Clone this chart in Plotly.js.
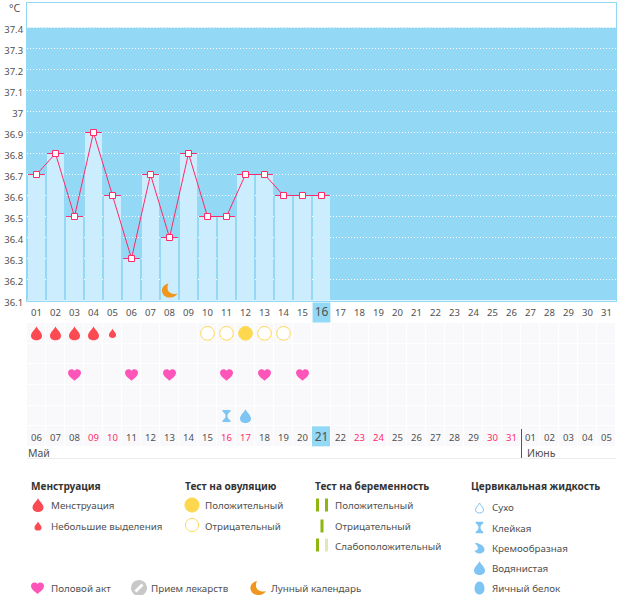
<!DOCTYPE html>
<html><head><meta charset="utf-8">
<script src="https://cdn.plot.ly/plotly-3.0.1.min.js"></script>
<style>html,body{margin:0;padding:0;background:#fff}#c{width:626px;height:595px}</style>
</head><body><div id="c"></div>
<script>
// ---- data ----
const days = [];
for (let d = 1; d <= 31; d++) days.push(d);
const cycleLabels = ['01','02','03','04','05','06','07','08','09','10','11','12','13','14','15','16','17','18','19','20','21','22','23','24','25','26','27','28','29','30','31'];
const dateLabels = ['06','07','08','09','10','11','12','13','14','15','16','17','18','19','20','21','22','23','24','25','26','27','28','29','30','31','01','02','03','04','05'];
const redCols = [4,5,11,12,18,19,25,26];
const tempDays = [1,2,3,4,5,6,7,8,9,10,11,12,13,14,15,16];
const temps = [36.7,36.8,36.5,36.9,36.6,36.3,36.7,36.4,36.8,36.5,36.5,36.7,36.7,36.6,36.6,36.6];
const yTicks = [36.1,36.2,36.3,36.4,36.5,36.6,36.7,36.8,36.9,37,37.1,37.2,37.3,37.4];
const yTickText = ['36.1','36.2','36.3','36.4','36.5','36.6','36.7','36.8','36.9','37','37.1','37.2','37.3','37.4'];
const todayCol = 16;
const moonDays = [8];
const periodDays = [1,2,3,4];
const spottingDays = [5];
const ovuPositive = [12];
const ovuNegative = [10,11,13,14];
const sexDays = [3,6,8,11,13,15];
const stickyDays = [11];
const wateryDays = [12];

// ---- styles ----
const BLUE='#93d8f5', BAR='#cbedfe', PINK='#ff2a68', CELL='#f9f9fb', TXT='#505050', RED='#fb4a52';
const YEL='#fdd84f', MOON='#f0961e', HEART='#fd56b8', CF='#7fc5f3', GRN='#8fb60f', PALE='#dfe8b8', GREY='#c8c8c8';
const FONT='"Noto Sans", sans-serif';
const W=626,H=595;
const px=v=>v/W, py=v=>(H-v)/H;

// icon outlines, in pixels around their anchor, y upwards
const scale=(s,k)=>s.replace(/-?\d+(\.\d+)?/g,n=>String(+n*k));
const ICON={
 drop:'M0,7 C1,4 5.5,1 5.5,-2.5 C5.5,-5.5 3,-7 0,-7 C-3,-7 -5.5,-5.5 -5.5,-2.5 C-5.5,1 -1,4 0,7 Z',
 heart:'M0,-6 C-3,-3.5 -6.5,-1 -6.5,2 C-6.5,4.5 -4.5,5.5 -3,5.5 C-1.5,5.5 -0.5,4.8 0,3.8 C0.5,4.8 1.5,5.5 3,5.5 C4.5,5.5 6.5,4.5 6.5,2 C6.5,-1 3,-3.5 0,-6 Z',
 moon:'M-1,7 C-6,6 -8,2 -7.5,-1 C-7,-5 -3,-7.5 1,-7 C4,-7 7,-5 8,-3 C4,-4.5 0,-3 -1.5,0 C-2.5,3 -2,5 -1,7 Z',
 sticky:'M-4,6 L4,6 L4,4.5 C1.5,3 1,1 1,0 C1,-1 1.5,-3 4,-4.5 L4,-6 L-4,-6 L-4,-4.5 C-1.5,-3 -1,-1 -1,0 C-1,1 -1.5,3 -4,4.5 Z',
 creamy:'M-5,5 C-1,5.5 4,3 5,-1 C5.5,-4 2,-6 -1,-5.5 C-3,-5.2 -4.5,-4 -5,-2.5 C-2,-2.5 -1,-0.5 -2,1.5 C-2.8,3 -4,4.5 -5,5 Z',
 egg:'M0,6.5 C3,6.5 5,3 5,-0.5 C5,-4 3,-6.5 0,-6.5 C-3,-6.5 -5,-4 -5,-0.5 C-5,3 -3,6.5 0,6.5 Z',
 circle:'M0,8 C4.4,8 8,4.4 8,0 C8,-4.4 4.4,-8 0,-8 C-4.4,-8 -8,-4.4 -8,0 C-8,4.4 -4.4,8 0,8 Z',
 slash:'M2.5,4.5 L4.5,2.5 L-2.5,-4.5 L-4.5,-2.5 Z'
};
function icon(path,xref,yref,x,y,fill,line,lw){
 return {type:'path',layer:'above',xref:xref,yref:yref,xsizemode:'pixel',ysizemode:'pixel',xanchor:x,yanchor:y,path:path,
  fillcolor:fill||'rgba(0,0,0,0)',line:{color:line||'rgba(0,0,0,0)',width:lw===undefined?0:lw}};
}
function lgIcon(path,x,y,fill,line,lw){return icon(path,'paper','paper',px(x),py(y),fill,line,lw);}
function note(x,y,text,opt){opt=opt||{};return {xref:'paper',yref:'paper',x:px(x-1),y:py(y),text:opt.bold?'<b>'+text+'</b>':text,showarrow:false,xanchor:opt.anchor||'left',yanchor:'middle',borderpad:0,
  font:{family:FONT,size:opt.size||9.8,color:opt.color||TXT}};}

const R=[1,2,3,4,5,6];
const shapes=[];
// plot background
shapes.push({type:'rect',layer:'below',xref:'x',yref:'y',x0:0.5,x1:31.5,y0:36.1,y1:37.4,fillcolor:BLUE,line:{width:0}});
// today marker on the upper axis
shapes.push({type:'rect',layer:'below',xref:'x',yref:'paper',x0:todayCol-0.47,x1:todayCol+0.47,y0:py(322.5),y1:py(302.5),fillcolor:BLUE,line:{width:0}});
// lower grid icons
periodDays.forEach(d=>shapes.push(icon(ICON.drop,'x2','y2',d,1,RED)));
spottingDays.forEach(d=>shapes.push(icon(scale(ICON.drop,0.65),'x2','y2',d,1,RED)));
ovuPositive.forEach(d=>shapes.push(icon(scale(ICON.circle,0.85),'x2','y2',d,1,YEL,YEL,1)));
ovuNegative.forEach(d=>shapes.push(icon(scale(ICON.circle,0.85),'x2','y2',d,1,'#ffffff',YEL,1)));
sexDays.forEach(d=>shapes.push(icon(ICON.heart,'x2','y2',d,3,HEART)));
stickyDays.forEach(d=>shapes.push(icon(ICON.sticky,'x2','y2',d,5,CF)));
wateryDays.forEach(d=>shapes.push(icon(ICON.drop,'x2','y2',d,5,CF)));
moonDays.forEach(d=>shapes.push(icon(ICON.moon,'x','y',d,36.148,MOON)));
// month divider and rule
shapes.push({type:'line',layer:'above',xref:'paper',yref:'paper',x0:px(521.5),x1:px(521.5),y0:py(458),y1:py(429),line:{color:'#555555',width:1}});
shapes.push({type:'line',layer:'above',xref:'paper',yref:'paper',x0:px(27),x1:px(616),y0:py(458.5),y1:py(458.5),line:{color:'#ececec',width:1}});
// legend icons
shapes.push(lgIcon(ICON.drop,38,505,RED));
shapes.push(lgIcon(scale(ICON.drop,0.65),38,526,RED));
shapes.push(lgIcon(scale(ICON.circle,0.88),192,505,YEL,YEL,1));
shapes.push(lgIcon(scale(ICON.circle,0.82),192,525,'#ffffff',YEL,1));
const bar=(x,y,c)=>({type:'rect',layer:'above',xref:'paper',yref:'paper',x0:px(x-1.5),x1:px(x+1.5),y0:py(y+6.5),y1:py(y-6.5),fillcolor:c,line:{width:0}});
shapes.push(bar(317.5,505,GRN),bar(326.5,505,GRN),bar(322,526,GRN),bar(317.5,545,GRN),bar(326.5,545,PALE));
shapes.push(lgIcon(scale(ICON.drop,0.72),479.5,508,'#ffffff',CF,1));
shapes.push(lgIcon(scale(ICON.sticky,0.95),479.5,527.5,CF));
shapes.push(lgIcon(ICON.creamy,479.5,548,CF));
shapes.push(lgIcon(ICON.drop,479.5,568,CF));
shapes.push(lgIcon(ICON.egg,479.5,588,CF));
shapes.push(lgIcon(ICON.heart,37.5,588,HEART));
shapes.push(lgIcon(ICON.circle,139,588,GREY));
shapes.push(lgIcon(ICON.slash,139,588,'#ffffff'));
shapes.push(lgIcon(ICON.moon,258,588,MOON));

const HEAD={bold:1,color:'#333333',size:10.1};
const annotations=[
 note(21.5,8,'°C',{anchor:'right',size:10.5}),
 note(28,453,'Май',{size:10.5}),
 note(526.5,453,'Июнь',{size:10.5}),
 note(31,486,'Менструация',HEAD),
 note(51,505,'Менструация'),
 note(51,526,'Небольшие выделения'),
 note(185,486,'Тест на овуляцию',HEAD),
 note(205,505,'Положительный'),
 note(205,526,'Отрицательный'),
 note(315,486,'Тест на беременность',HEAD),
 note(335,505,'Положительный'),
 note(335,526,'Отрицательный'),
 note(335,546,'Слабоположительный'),
 note(471,486,'Цервикальная жидкость',HEAD),
 note(492,507,'Сухо'),
 note(492,528,'Клейкая'),
 note(492,548,'Кремообразная'),
 note(492,568,'Водянистая'),
 note(492,588,'Яичный белок'),
 note(51,588,'Половой акт'),
 note(151,588,'Прием лекарств'),
 note(271,588,'Лунный календарь')
];

const dateColors=dateLabels.map((_,i)=>redCols.includes(i+1)?PINK:TXT);
const dateSizes=dateLabels.map((_,i)=>i+1===todayCol?12:9.5);

const traces=[
 {type:'bar',x:tempDays,y:temps.map(t=>+(t-36.1).toFixed(1)),base:36.1,width:0.94,marker:{color:BAR,line:{width:0}},xaxis:'x',yaxis:'y',hoverinfo:'skip'},
 {type:'scatter',mode:'markers',x:tempDays,y:temps,marker:{symbol:'line-ew',size:12,line:{color:PINK,width:1}},xaxis:'x',yaxis:'y',hoverinfo:'skip'},
 {type:'scatter',mode:'lines+markers',x:tempDays,y:temps,line:{color:PINK,width:1},marker:{symbol:'square',size:6,color:'#ffffff',line:{color:PINK,width:1}},xaxis:'x',yaxis:'y'},
 {type:'heatmap',x:days,y:R,z:R.map(()=>days.map(()=>1)),colorscale:[[0,CELL],[1,CELL]],showscale:false,xgap:1,ygap:1,xaxis:'x2',yaxis:'y2',hoverinfo:'skip'},
 {type:'heatmap',x:[todayCol],y:[6],z:[[1]],colorscale:[[0,BLUE],[1,BLUE]],showscale:false,xgap:1,ygap:1,xaxis:'x2',yaxis:'y2',hoverinfo:'skip'},
 {type:'scatter',mode:'text',x:days,y:days.map(()=>6.08),text:dateLabels,textposition:'middle center',textfont:{family:FONT,size:dateSizes,color:dateColors},xaxis:'x2',yaxis:'y2',hoverinfo:'skip'}
];

const layout={
 width:W,height:H,margin:{l:0,r:0,t:0,b:0},paper_bgcolor:'#ffffff',plot_bgcolor:'rgba(0,0,0,0)',showlegend:false,bargap:0,
 font:{family:FONT,size:11,color:TXT},
 xaxis:{domain:[px(27),px(616)],range:[0.5,31.5],anchor:'y',tickmode:'array',tickvals:days,
  ticktext:cycleLabels.map((t,i)=>i+1===todayCol?'<span style="font-size:12px">'+t+'</span>':t),
  ticks:'',ticklabelstandoff:3,tickangle:0,showgrid:false,zeroline:false,showline:true,mirror:true,linecolor:BLUE,linewidth:1,tickfont:{family:FONT,size:9.5,color:TXT}},
 yaxis:{domain:[py(300.5),py(3)],range:[36.1,36.1+297.5/210],anchor:'x',tickmode:'array',tickvals:yTicks,ticktext:yTickText,ticks:'',ticklabelstandoff:1,ticklabelshift:2,
  showgrid:true,gridcolor:'#ffffff',griddash:'1px,2px',gridwidth:1,zeroline:false,showline:true,mirror:true,linecolor:BLUE,linewidth:1,tickfont:{family:FONT,size:9.5,color:TXT}},
 xaxis2:{domain:[px(27),px(616)],range:[0.5,31.5],anchor:'y2',showticklabels:false,ticks:'',showgrid:false,zeroline:false,showline:false},
 yaxis2:{domain:[py(447),py(323)],range:[6.5,0.5],anchor:'x2',showticklabels:false,ticks:'',showgrid:false,zeroline:false,showline:false},
 shapes:shapes,annotations:annotations
};
Plotly.newPlot('c',traces,layout,{displayModeBar:false,staticPlot:true});
</script></body></html>
